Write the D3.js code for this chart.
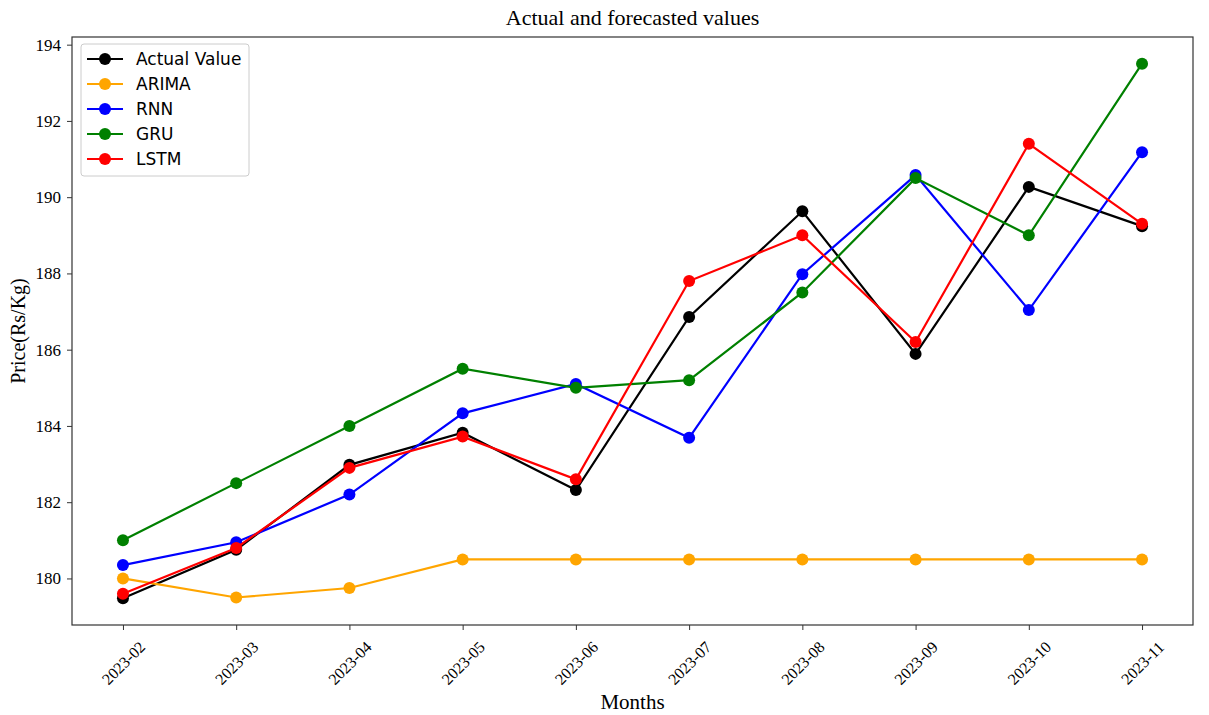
<!DOCTYPE html>
<html>
<head>
<meta charset="utf-8">
<script src="https://cdn.jsdelivr.net/npm/d3@7"></script>
<style>
  body { margin: 0; background: #fff; }
  svg { display: block; }
</style>
</head>
<body>
<div id="chart"></div>
<script>
const months = ['2023-02', '2023-03', '2023-04', '2023-05', '2023-06', '2023-07', '2023-08', '2023-09', '2023-10', '2023-11']
const actual = [179.48, 180.75, 182.98, 183.82, 182.32, 186.86, 189.63, 185.89, 190.27, 189.24]
const arima = [180.0, 179.5, 179.75, 180.5, 180.5, 180.5, 180.5, 180.5, 180.5, 180.5]
const rnn = [180.35, 180.95, 182.2, 184.33, 185.1, 183.69, 187.98, 190.58, 187.04, 191.18]
const gru = [181.0, 182.5, 184.0, 185.5, 185.0, 185.2, 187.5, 190.5, 189.0, 193.5]
const lstm = [179.6, 180.8, 182.9, 183.72, 182.6, 187.8, 189.0, 186.2, 191.4, 189.3]
const yTicks = [180, 182, 184, 186, 188, 190, 192, 194]

const series = [
  { name: 'Actual Value', color: '#000000', values: actual },
  { name: 'ARIMA', color: '#ffa500', values: arima },
  { name: 'RNN', color: '#0000ff', values: rnn },
  { name: 'GRU', color: '#008000', values: gru },
  { name: 'LSTM', color: '#ff0000', values: lstm },
]

const width = 1209
const height = 715
const margin = { top: 37, right: 16, bottom: 90, left: 72 }
const serif = '"Liberation Serif", "Times New Roman", serif'

const svg = d3.select('#chart').append('svg')
  .attr('width', width)
  .attr('height', height)

const all = series.flatMap(s => s.values)
const lo = d3.min(all)
const hi = d3.max(all)
const pad = (hi - lo) * 0.05

const x = d3.scaleLinear()
  .domain([-0.45, months.length - 1 + 0.45])
  .range([margin.left, width - margin.right])

const y = d3.scaleLinear()
  .domain([lo - pad, hi + pad])
  .range([height - margin.bottom, margin.top])

// Axes
const xAxis = svg.append('g')
  .attr('transform', `translate(0,${height - margin.bottom})`)
  .call(d3.axisBottom(x).tickValues(d3.range(months.length)).tickSize(5).tickSizeOuter(0).tickFormat(''))
xAxis.select('.domain').remove()
xAxis.selectAll('line').attr('stroke', '#333').attr('stroke-width', 1)

xAxis.selectAll('.tick')
  .append('text')
  .attr('transform', 'translate(0,38) rotate(-45)')
  .attr('text-anchor', 'middle')
  .attr('dominant-baseline', 'central')
  .attr('fill', '#000')
  .style('font-family', serif)
  .style('font-size', '16px')
  .text(d => months[d])

const yAxis = svg.append('g')
  .attr('transform', `translate(${margin.left},0)`)
  .call(d3.axisLeft(y).tickValues(yTicks).tickSize(5).tickPadding(6).tickSizeOuter(0))
yAxis.select('.domain').remove()
yAxis.selectAll('line').attr('stroke', '#333')
yAxis.selectAll('text')
  .style('font-family', serif)
  .style('font-size', '17px')
  .attr('fill', '#000')

// Frame
svg.append('rect')
  .attr('x', margin.left)
  .attr('y', margin.top)
  .attr('width', width - margin.left - margin.right)
  .attr('height', height - margin.top - margin.bottom)
  .attr('fill', 'none')
  .attr('stroke', '#333')
  .attr('stroke-width', 1.2)

// Lines
const line = d3.line()
  .x((d, i) => x(i))
  .y(d => y(d))

const sg = svg.append('g')
  .selectAll('g')
  .data(series)
  .join('g')

sg.append('path')
  .attr('d', d => line(d.values))
  .attr('fill', 'none')
  .attr('stroke', d => d.color)
  .attr('stroke-width', 2.2)

sg.selectAll('circle')
  .data(d => d.values.map(v => ({ v, color: d.color })))
  .join('circle')
  .attr('cx', (d, i) => x(i))
  .attr('cy', d => y(d.v))
  .attr('r', 6)
  .attr('fill', d => d.color)

// Legend
const legend = svg.append('g')
  .attr('transform', 'translate(81,44)')

legend.append('rect')
  .attr('width', 168)
  .attr('height', 132)
  .attr('rx', 3)
  .attr('fill', 'white')
  .attr('fill-opacity', 0.8)
  .attr('stroke', '#ccc')

const lg = legend.selectAll('g')
  .data(series)
  .join('g')
  .attr('transform', (d, i) => `translate(0,${15 + i * 25})`)

lg.append('line')
  .attr('x1', 6)
  .attr('x2', 42)
  .attr('stroke', d => d.color)
  .attr('stroke-width', 2.2)

lg.append('circle')
  .attr('cx', 24)
  .attr('r', 6)
  .attr('fill', d => d.color)

lg.append('text')
  .attr('x', 55)
  .attr('dy', '0.35em')
  .style('font-family', '"DejaVu Sans", sans-serif')
  .style('font-size', '17px')
  .text(d => d.name)

// Titles
svg.append('text')
  .attr('x', (margin.left + width - margin.right) / 2)
  .attr('y', 25)
  .attr('text-anchor', 'middle')
  .style('font-family', serif)
  .style('font-size', '22px')
  .text('Actual and forecasted values')

svg.append('text')
  .attr('x', (margin.left + width - margin.right) / 2)
  .attr('y', 709)
  .attr('text-anchor', 'middle')
  .style('font-family', serif)
  .style('font-size', '21px')
  .text('Months')

svg.append('text')
  .attr('transform', `translate(25,${(margin.top + height - margin.bottom) / 2}) rotate(-90)`)
  .attr('text-anchor', 'middle')
  .style('font-family', serif)
  .style('font-size', '20px')
  .text('Price(Rs/Kg)')
</script>
</body>
</html>
